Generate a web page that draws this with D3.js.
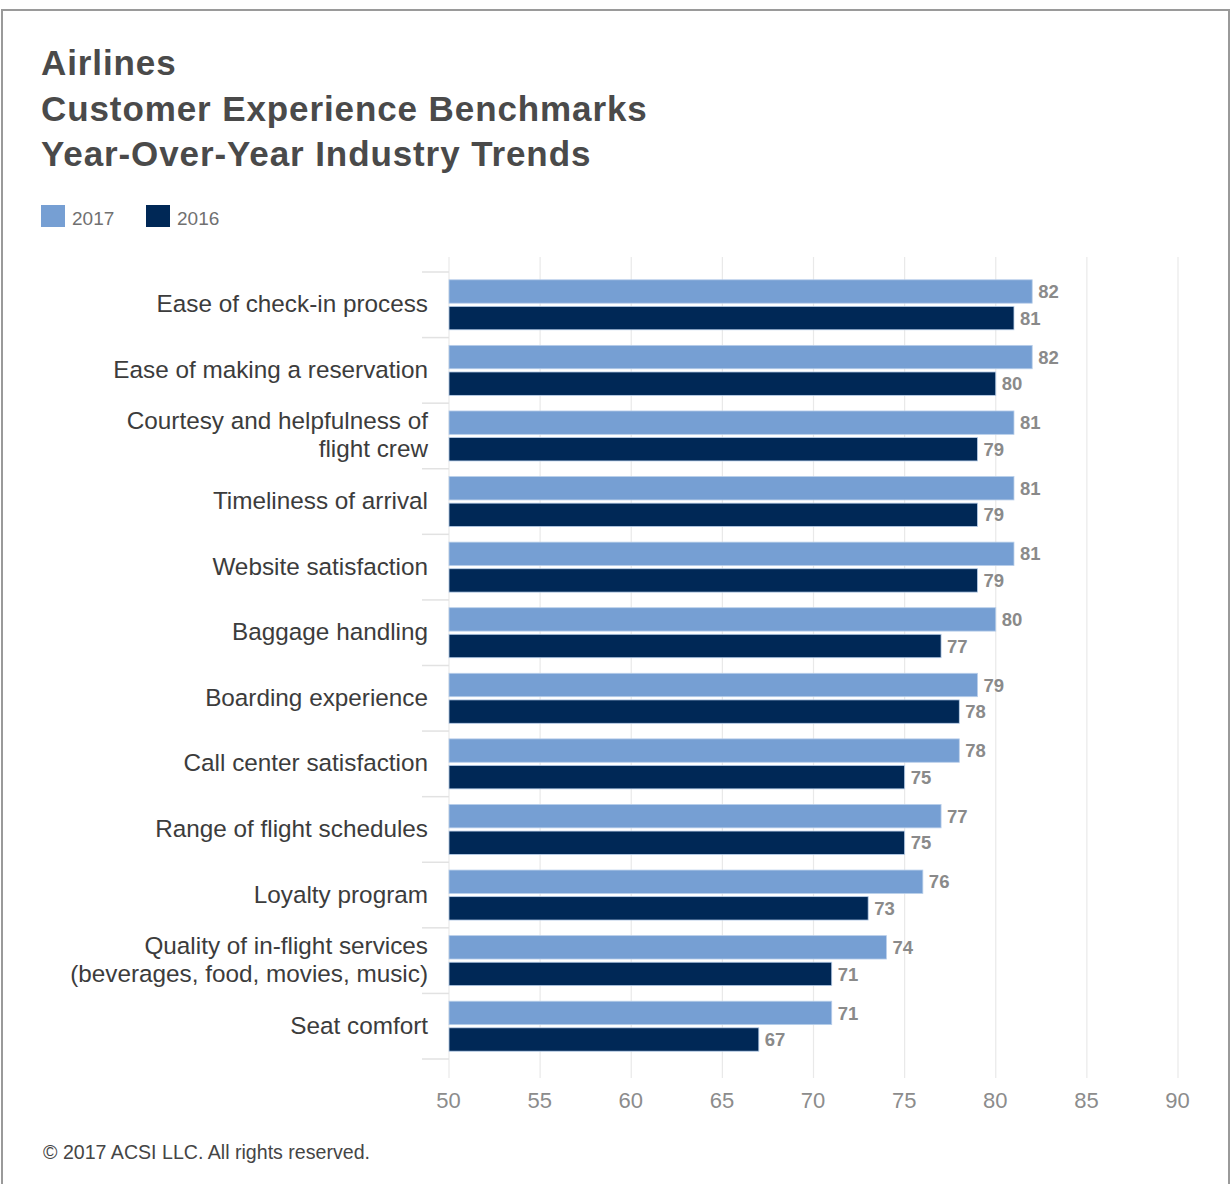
<!DOCTYPE html>
<html>
<head>
<meta charset="utf-8">
<script src="https://cdn.jsdelivr.net/npm/d3@7"></script>
<style>
  html, body { margin: 0; padding: 0; background: #fff; }
  svg { display: block; font-family: "Liberation Sans", Arial, Helvetica, sans-serif; }
</style>
</head>
<body>
<svg id="chart" width="1231" height="1184"></svg>
<script>
const titleLines = ["Airlines", "Customer Experience Benchmarks", "Year-Over-Year Industry Trends"];
const seriesNames = ["2017", "2016"];
const seriesColors = ["#769fd3", "#002856"];
const categories = [
  "Ease of check-in process",
  "Ease of making a reservation",
  "Courtesy and helpfulness of\nflight crew",
  "Timeliness of arrival",
  "Website satisfaction",
  "Baggage handling",
  "Boarding experience",
  "Call center satisfaction",
  "Range of flight schedules",
  "Loyalty program",
  "Quality of in-flight services\n(beverages, food, movies, music)",
  "Seat comfort"
];
const values2017 = [82, 82, 81, 81, 81, 80, 79, 78, 77, 76, 74, 71];
const values2016 = [81, 80, 79, 79, 79, 77, 78, 75, 75, 73, 71, 67];
const xTicks = [50, 55, 60, 65, 70, 75, 80, 85, 90];
const footerText = "\u00A9 2017 ACSI LLC. All rights reserved.";

const svg = d3.select("#chart");

// frame
svg.append("rect")
  .attr("x", 2).attr("y", 10)
  .attr("width", 1227).attr("height", 1200)
  .attr("fill", "none").attr("stroke", "#9a9a9a").attr("stroke-width", 2);

// title
svg.append("g").selectAll("text").data(titleLines).join("text")
  .attr("x", 41)
  .attr("y", (d, i) => 75 + i * 45.5)
  .attr("font-size", 35)
  .attr("font-weight", "bold")
  .attr("letter-spacing", 0.9)
  .attr("fill", "#4a4a4a")
  .text(d => d);

// legend
const legend = svg.append("g");
const legendX = [41, 146];
seriesNames.forEach((s, i) => {
  legend.append("rect")
    .attr("x", legendX[i]).attr("y", 205)
    .attr("width", 24).attr("height", 22)
    .attr("fill", seriesColors[i]);
  legend.append("text")
    .attr("x", legendX[i] + 31).attr("y", 225)
    .attr("font-size", 19)
    .attr("fill", "#707070")
    .text(s);
});

// scales
const x = d3.scaleLinear().domain([50, 90]).range([449, 1178]);
const y = d3.scaleBand().domain(categories).range([272, 1059]).padding(0);
const barBlock = 50;
const sub = d3.scaleBand().domain(seriesNames)
  .range([(y.bandwidth() - barBlock) / 2, (y.bandwidth() + barBlock) / 2])
  .paddingInner(0.12);

// grid lines
svg.append("g").selectAll("line").data(xTicks).join("line")
  .attr("x1", d => x(d)).attr("x2", d => x(d))
  .attr("y1", 257).attr("y2", 1078)
  .attr("stroke", "#e9e9e9").attr("stroke-width", 1.2);

// left category tick marks
const boundaries = categories.map(c => y(c)).concat([y(categories[categories.length - 1]) + y.bandwidth()]);
svg.append("g").selectAll("line").data(boundaries).join("line")
  .attr("x1", 422).attr("x2", 449)
  .attr("y1", d => d).attr("y2", d => d)
  .attr("stroke", "#e2e2e2").attr("stroke-width", 1.5);

// x axis labels
const xAxis = d3.axisBottom(x).tickValues(xTicks).tickSize(0).tickPadding(0);
const xg = svg.append("g").attr("transform", "translate(-1,1090)").call(xAxis);
xg.select(".domain").remove();
xg.selectAll("text")
  .attr("font-size", 22)
  .attr("font-family", "'Liberation Sans', Arial, sans-serif")
  .attr("fill", "#8c8c8c")
  .attr("dy", "0.8em");

// category labels
const catG = svg.append("g");
categories.forEach(c => {
  const lines = c.split("\n");
  const cy = y(c) + y.bandwidth() / 2 - 1;
  const lh = 28;
  const t = catG.append("text")
    .attr("x", 428)
    .attr("text-anchor", "end")
    .attr("font-size", 24.3)
    .attr("fill", "#3c3c3c");
  lines.forEach((l, i) => {
    t.append("tspan")
      .attr("x", 428)
      .attr("y", cy + (i - (lines.length - 1) / 2) * lh)
      .attr("dy", "0.35em")
      .text(l);
  });
});

// bars
const rows = categories.map((c, i) => ({ cat: c, vals: [values2017[i], values2016[i]] }));
const rowG = svg.append("g").selectAll("g").data(rows).join("g")
  .attr("transform", d => `translate(0,${y(d.cat)})`);

rowG.selectAll("rect").data(d => d.vals.map((v, i) => ({ s: seriesNames[i], v, i }))).join("rect")
  .attr("x", x(50))
  .attr("y", d => sub(d.s))
  .attr("width", d => x(d.v) - x(50))
  .attr("height", sub.bandwidth())
  .attr("fill", d => seriesColors[d.i])
  .attr("stroke", "#b9cfea")
  .attr("stroke-width", 0.8);

rowG.selectAll("text").data(d => d.vals.map((v, i) => ({ s: seriesNames[i], v, i }))).join("text")
  .attr("x", d => x(d.v) + 6)
  .attr("y", d => sub(d.s) + sub.bandwidth() / 2)
  .attr("dy", "0.36em")
  .attr("font-size", 18.5)
  .attr("font-weight", "bold")
  .attr("fill", "#8a8a8a")
  .text(d => d.v);

// footer
svg.append("text")
  .attr("x", 43).attr("y", 1159)
  .attr("font-size", 19.6)
  .attr("fill", "#454545")
  .text(footerText);
</script>
</body>
</html>
